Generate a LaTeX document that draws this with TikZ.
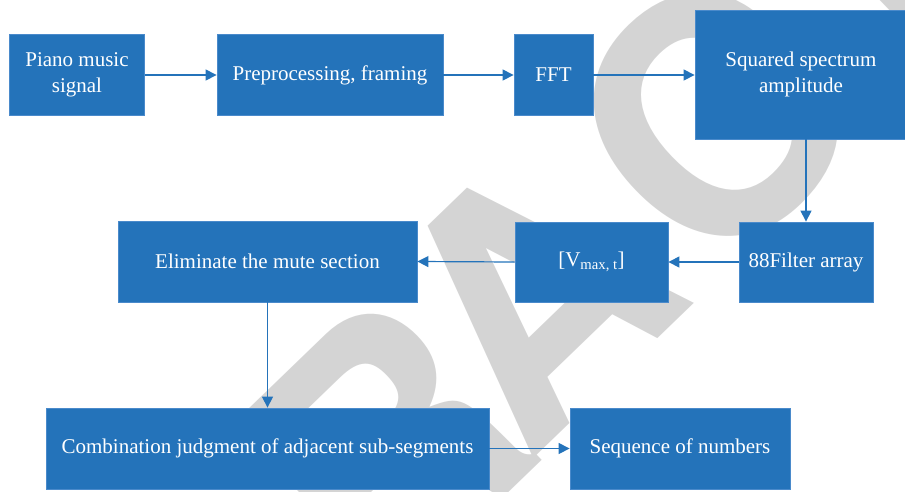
\documentclass[tikz,border=0pt]{standalone}
\usepackage{fontspec}
\setmainfont{Liberation Serif}
\newfontfamily\wmfont{TeX Gyre Heros}
\usetikzlibrary{arrows.meta}
\definecolor{boxblue}{HTML}{2473BA}
\definecolor{edgeblue}{HTML}{4A8ACB}
\definecolor{wmgray}{HTML}{D4D4D4}
\tikzset{
  box/.style={draw=edgeblue, line width=0.8pt, fill=boxblue, text=white, align=center,
    font=\fontsize{21}{26}\selectfont, inner sep=0pt},
  conn/.style={draw=boxblue, line width=1.2pt, -{Triangle[length=11pt,width=11pt]}},
  wmletter/.style={rotate=44, text=wmgray, inner sep=0pt,
    font=\wmfont\bfseries\fontsize{330}{330}\selectfont}
}
\begin{document}
\begin{tikzpicture}[x=1pt,y=-1pt]
\useasboundingbox (0,0) rectangle (905,491);
% watermark
\node[wmletter] (wmR) at (384,446) {R};
\node[wmletter] (wmA) at (530,295) {A};
\node[wmletter] (wmC) at (712,118) {C};
\node[wmletter] (wmT) at (868,-45) {T};
% boxes
\node[box, minimum width=135pt, minimum height=81pt] (piano) at (77,75) {Piano music\\signal};
\node[box, minimum width=226pt, minimum height=81pt] (pre) at (330,75) {Preprocessing, framing};
\node[box, minimum width=79pt, minimum height=81pt] (fft) at (553.5,75) {FFT};
\node[box, minimum width=212pt, minimum height=129pt] (sq) at (801,74.5) {Squared spectrum\\amplitude};
\node[box, minimum width=134pt, minimum height=80pt] (filt) at (806,262) {88Filter array};
\node[box, minimum width=153pt, minimum height=80pt] (vmax) at (591.5,262) {[V\textsubscript{max, t}]};
\node[box, minimum width=299pt, minimum height=81pt] (elim) at (267.5,261.5) {Eliminate the mute section};
\node[box, minimum width=443pt, minimum height=81pt] (comb) at (267.5,448.5) {Combination judgment of adjacent sub-segments};
\node[box, minimum width=220pt, minimum height=81pt] (seq) at (680,448.5) {Sequence of numbers};
% connectors
\draw[conn] (piano.east) -- (pre.west);
\draw[conn] (pre.east) -- (fft.west);
\draw[conn] (fft.east) -- (fft.east -| sq.west);
\draw[conn] (sq.south -| filt.north) -- (filt.north);
\draw[conn] (filt.west) -- (vmax.east);
\draw[conn] (vmax.west) -- (elim.east);
\draw[conn] (elim.south) -- (comb.north);
\draw[conn] (comb.east) -- (seq.west);
\end{tikzpicture}
\end{document}
